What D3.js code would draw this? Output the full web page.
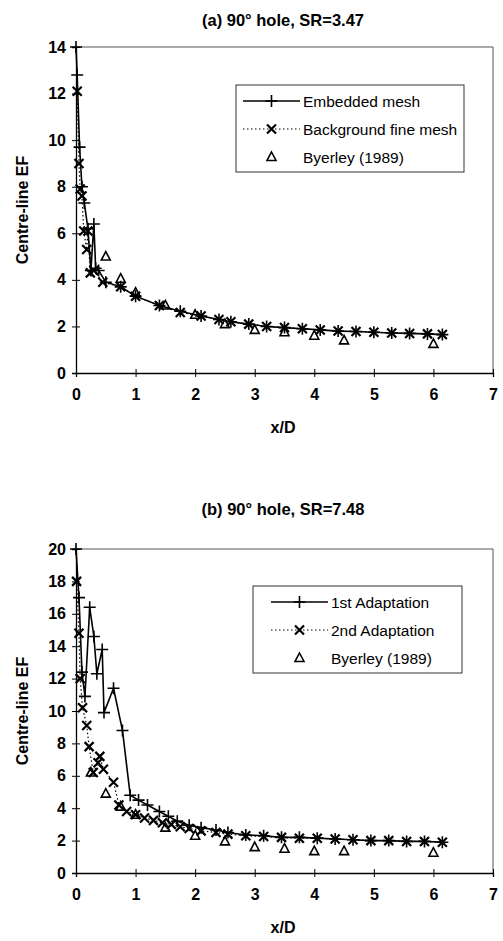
<!DOCTYPE html>
<html>
<head>
<meta charset="utf-8">
<script src="https://cdn.jsdelivr.net/npm/d3@7"></script>
<style>
  body { margin: 0; background: #fff; }
  svg { display: block; font-family: "Liberation Sans", Arial, sans-serif; }
</style>
</head>
<body>
<div id="chart"></div>
<script>
// panel (a) 90 deg hole, SR=3.47
var embeddedX = [0, 0.02, 0.06, 0.1, 0.14, 0.2, 0.25, 0.3, 0.33, 0.38, 0.5, 0.75, 1.0, 1.4, 1.75, 2.1, 2.4, 2.6, 2.9, 3.2, 3.5, 3.8, 4.1, 4.4, 4.7, 5.0, 5.3, 5.6, 5.9, 6.15];
var embeddedY = [14.0, 12.8, 9.7, 8.0, 7.3, 6.2, 4.4, 6.4, 4.5, 4.4, 3.9, 3.7, 3.3, 2.9, 2.65, 2.45, 2.3, 2.2, 2.1, 2.0, 1.95, 1.9, 1.85, 1.8, 1.78, 1.75, 1.72, 1.7, 1.68, 1.65];
var fineX = [0.02, 0.05, 0.07, 0.1, 0.13, 0.18, 0.2, 0.24, 0.3, 0.45, 0.75, 1.0, 1.4, 1.75, 2.1, 2.4, 2.6, 2.9, 3.2, 3.5, 3.8, 4.1, 4.4, 4.7, 5.0, 5.3, 5.6, 5.9, 6.15];
var fineY = [12.1, 9.0, 7.9, 7.6, 6.1, 5.3, 6.1, 4.3, 4.4, 3.9, 3.7, 3.3, 2.9, 2.6, 2.45, 2.3, 2.2, 2.1, 2.0, 1.95, 1.9, 1.85, 1.8, 1.78, 1.75, 1.72, 1.7, 1.68, 1.65];
var byerleyAX = [0.5, 0.75, 1.0, 1.5, 2.0, 2.5, 3.0, 3.5, 4.0, 4.5, 6.0];
var byerleyAY = [5.0, 4.05, 3.45, 2.9, 2.5, 2.1, 1.85, 1.75, 1.6, 1.4, 1.25];

// panel (b) 90 deg hole, SR=7.48
var firstX = [0, 0.05, 0.1, 0.15, 0.23, 0.3, 0.35, 0.44, 0.47, 0.63, 0.78, 0.91, 1.05, 1.2, 1.4, 1.55, 1.7, 1.9, 2.1, 2.35, 2.55, 2.85, 3.15, 3.45, 3.75, 4.05, 4.35, 4.65, 4.95, 5.25, 5.55, 5.85, 6.15];
var firstY = [20.0, 17.0, 12.4, 10.9, 16.4, 14.6, 12.3, 13.8, 9.9, 11.4, 8.8, 4.8, 4.5, 4.2, 3.8, 3.5, 3.2, 2.95, 2.8, 2.65, 2.5, 2.35, 2.3, 2.2, 2.2, 2.15, 2.1, 2.05, 2.0, 2.0, 1.95, 1.95, 1.9];
var secondX = [0.01, 0.05, 0.07, 0.11, 0.18, 0.22, 0.29, 0.37, 0.4, 0.46, 0.63, 0.72, 0.85, 1.0, 1.15, 1.3, 1.45, 1.6, 1.75, 1.9, 2.1, 2.35, 2.55, 2.85, 3.15, 3.45, 3.75, 4.05, 4.35, 4.65, 4.95, 5.25, 5.55, 5.85, 6.15];
var secondY = [18.0, 14.8, 12.0, 10.2, 9.1, 7.8, 6.2, 6.8, 7.2, 6.4, 5.6, 4.2, 3.8, 3.6, 3.4, 3.25, 3.1, 3.0, 2.85, 2.75, 2.6, 2.5, 2.4, 2.3, 2.25, 2.2, 2.15, 2.15, 2.1, 2.05, 2.0, 2.0, 1.95, 1.95, 1.9];
var byerleyBX = [0.25, 0.5, 0.75, 1.0, 1.5, 2.0, 2.5, 3.0, 3.5, 4.0, 4.5, 6.0];
var byerleyBY = [6.2, 4.9, 4.1, 3.6, 2.8, 2.3, 1.95, 1.6, 1.5, 1.35, 1.35, 1.25];

var xTicks = [0, 1, 2, 3, 4, 5, 6, 7];
var yTicksA = [0, 2, 4, 6, 8, 10, 12, 14];
var yTicksB = [0, 2, 4, 6, 8, 10, 12, 14, 16, 18, 20];

var width = 503, height = 941;
var FONT = "Liberation Sans, Arial, sans-serif";

var svg = d3.select("#chart").append("svg")
    .attr("width", width)
    .attr("height", height);

function zip(xs, ys) {
    return xs.map((d, i) => ({ x: d, y: ys[i] }));
}

function plus(g, cx, cy) {
    g.append("path")
        .attr("d", "M" + (cx - 6) + "," + cy + "H" + (cx + 6) + "M" + cx + "," + (cy - 6) + "V" + (cy + 6))
        .attr("stroke", "#000").attr("stroke-width", 1.6).attr("fill", "none");
}

function cross(g, cx, cy) {
    g.append("path")
        .attr("d", "M" + (cx - 4.5) + "," + (cy - 4.5) + "L" + (cx + 4.5) + "," + (cy + 4.5) +
            "M" + (cx + 4.5) + "," + (cy - 4.5) + "L" + (cx - 4.5) + "," + (cy + 4.5))
        .attr("stroke", "#000").attr("stroke-width", 2.2).attr("fill", "none");
}

function tri(g, cx, cy) {
    g.append("path")
        .attr("d", "M" + cx + "," + (cy - 5) + "L" + (cx + 4.5) + "," + (cy + 3.5) + "L" + (cx - 4.5) + "," + (cy + 3.5) + "Z")
        .attr("stroke", "#000").attr("stroke-width", 1.6).attr("fill", "none");
}

function panel(opt) {
    var x = d3.scaleLinear().domain([0, 7]).range([76, 493]);
    var y = d3.scaleLinear().domain([0, opt.ymax]).range([opt.bottom, opt.top]);
    var g = svg.append("g");

    // title
    g.append("text")
        .attr("x", 283).attr("y", opt.titleY)
        .attr("text-anchor", "middle")
        .attr("font-size", 16.5).attr("font-weight", "bold")
        .text(opt.title);

    // plot area border (top / right)
    g.append("path")
        .attr("d", "M" + x(0) + "," + y(opt.ymax) + "H" + x(7) + "V" + y(0))
        .attr("stroke", "#555").attr("stroke-width", 1).attr("fill", "none");

    var xAxis = g.append("g")
        .attr("transform", "translate(0," + y(0) + ")")
        .call(d3.axisBottom(x).tickValues(xTicks).tickFormat(d3.format("d")).tickSize(4).tickPadding(12));
    xAxis.selectAll(".tick line").attr("y1", -4);
    xAxis.selectAll("text").attr("font-size", 16).attr("font-weight", "bold")
        .attr("font-family", FONT);

    var yAxis = g.append("g")
        .attr("transform", "translate(" + x(0) + ",0)")
        .call(d3.axisLeft(y).tickValues(opt.yTicks).tickFormat(d3.format("d")).tickSize(4).tickPadding(6));
    yAxis.selectAll(".tick line").attr("x1", 4);
    yAxis.selectAll("text").attr("font-size", 16).attr("font-weight", "bold")
        .attr("font-family", FONT);
    g.selectAll(".domain").attr("stroke", "#000").attr("stroke-width", 1.3);

    // axis labels
    g.append("text")
        .attr("x", 283).attr("y", y(0) + 60)
        .attr("text-anchor", "middle")
        .attr("font-size", 16).attr("font-weight", "bold")
        .text("x/D");
    g.append("text")
        .attr("transform", "translate(28," + ((y(0) + y(opt.ymax)) / 2) + ") rotate(-90)")
        .attr("text-anchor", "middle")
        .attr("font-size", 16).attr("font-weight", "bold")
        .text("Centre-line EF");

    var line = d3.line().x(d => x(d.x)).y(d => y(d.y));
    var s1 = zip(opt.s1x, opt.s1y), s2 = zip(opt.s2x, opt.s2y), s3 = zip(opt.s3x, opt.s3y);

    g.append("path").datum(s2).attr("d", line)
        .attr("fill", "none").attr("stroke", "#000").attr("stroke-width", 1.2)
        .attr("stroke-dasharray", "1.5,2.5");
    g.append("path").datum(s1).attr("d", line)
        .attr("fill", "none").attr("stroke", "#000").attr("stroke-width", 1.6);

    var m = g.append("g");
    s2.forEach(d => cross(m, x(d.x), y(d.y)));
    s1.forEach(d => plus(m, x(d.x), y(d.y)));
    s3.forEach(d => tri(m, x(d.x), y(d.y)));

    // legend
    var L = opt.legend;
    var lg = g.append("g");
    lg.append("rect")
        .attr("x", L.x).attr("y", L.y).attr("width", L.w).attr("height", L.h)
        .attr("fill", "#fff").attr("stroke", "#333").attr("stroke-width", 1);
    var rows = [L.y + 16, L.y + 44, L.y + 72];
    lg.append("line").attr("x1", L.x1).attr("x2", L.x2).attr("y1", rows[0]).attr("y2", rows[0])
        .attr("stroke", "#000").attr("stroke-width", 1.6);
    plus(lg, (L.x1 + L.x2) / 2, rows[0]);
    lg.append("line").attr("x1", L.x1).attr("x2", L.x2).attr("y1", rows[1]).attr("y2", rows[1])
        .attr("stroke", "#000").attr("stroke-width", 1.2).attr("stroke-dasharray", "1.5,2.5");
    cross(lg, (L.x1 + L.x2) / 2, rows[1]);
    tri(lg, (L.x1 + L.x2) / 2, rows[2]);
    opt.names.forEach(function (n, i) {
        lg.append("text")
            .attr("x", L.x2 + 3).attr("y", rows[i]).attr("dy", "0.36em")
            .attr("font-size", 15.5)
            .text(n);
    });
}

panel({
    title: "(a) 90\u00b0 hole, SR=3.47", titleY: 26,
    ymax: 14, top: 47, bottom: 373, yTicks: yTicksA,
    s1x: embeddedX, s1y: embeddedY, s2x: fineX, s2y: fineY, s3x: byerleyAX, s3y: byerleyAY,
    names: ["Embedded mesh", "Background fine mesh", "Byerley (1989)"],
    legend: { x: 236, y: 85, w: 228, h: 87, x1: 243, x2: 300 }
});

panel({
    title: "(b) 90\u00b0 hole, SR=7.48", titleY: 515,
    ymax: 20, top: 549, bottom: 873, yTicks: yTicksB,
    s1x: firstX, s1y: firstY, s2x: secondX, s2y: secondY, s3x: byerleyBX, s3y: byerleyBY,
    names: ["1st Adaptation", "2nd Adaptation", "Byerley (1989)"],
    legend: { x: 253, y: 586, w: 209, h: 87, x1: 271, x2: 328 }
});
</script>
</body>
</html>
